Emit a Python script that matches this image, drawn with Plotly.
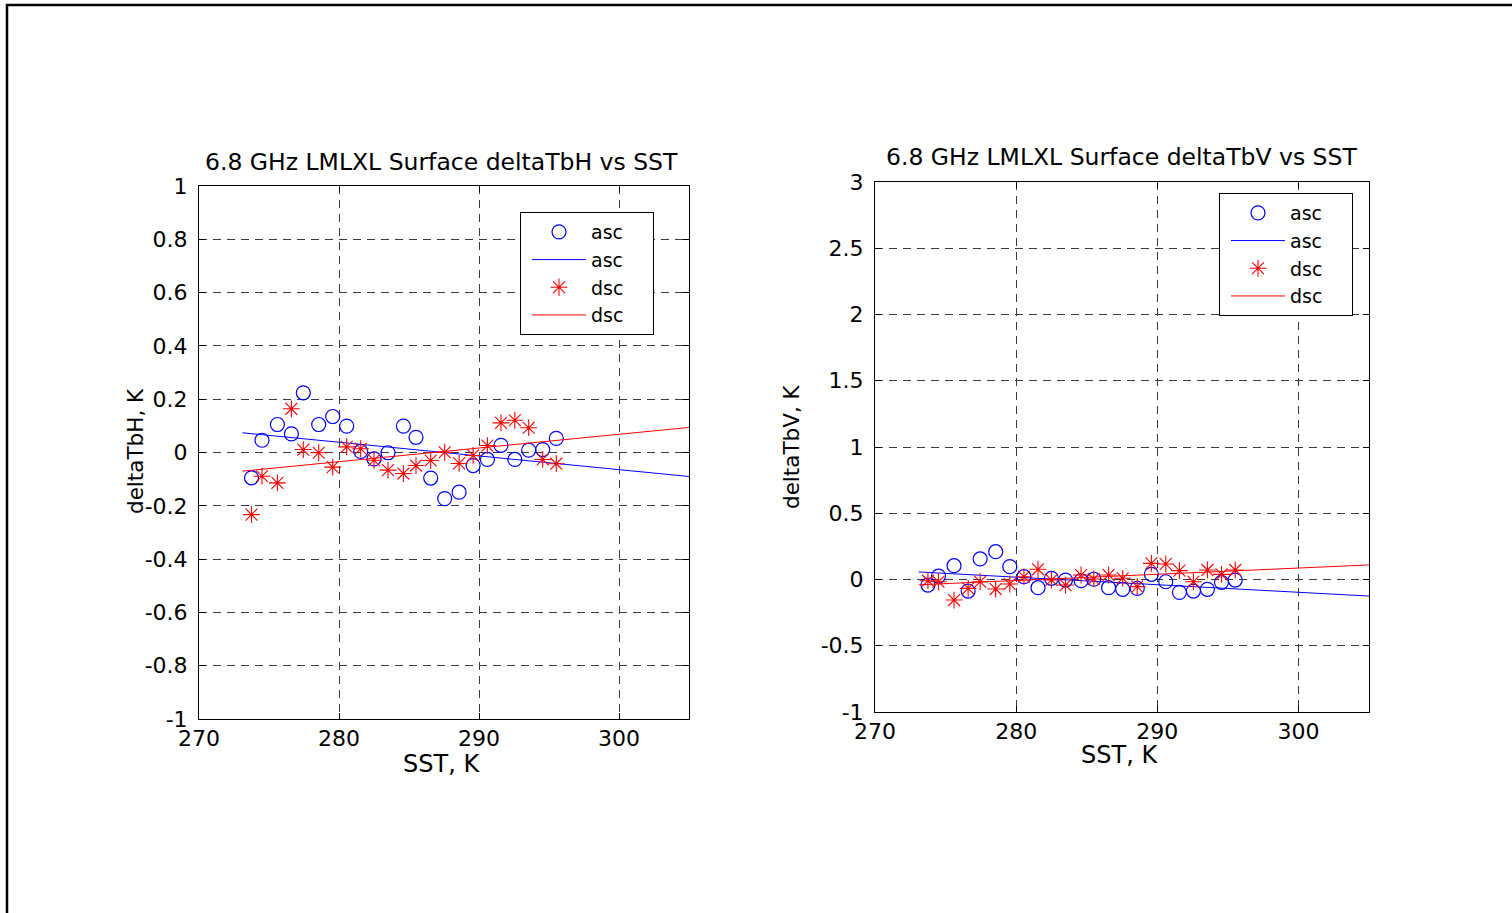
import plotly.graph_objects as go

# Sea surface temperature bins (K), shared by both channels
sst = [273.75, 274.5, 275.6, 276.6, 277.45, 278.55, 279.55, 280.55, 281.55, 282.5,
       283.5, 284.6, 285.5, 286.55, 287.55, 288.58, 289.58, 290.6, 291.57, 292.56,
       293.55, 294.55, 295.52]

# H-pol surface deltaTb (K)
dtbh_asc = [-0.095, 0.046, 0.105, 0.070, 0.224, 0.105, 0.135, 0.099, 0.004, -0.024,
            -0.001, 0.099, 0.057, -0.096, -0.173, -0.149, -0.049, -0.026, 0.027, -0.026,
            0.009, 0.011, 0.053]
dtbh_dsc = [-0.233, -0.089, -0.114, 0.164, 0.011, -0.001, -0.055, 0.021, 0.014, -0.029,
            -0.066, -0.079, -0.049, -0.030, 0.001, -0.041, -0.011, 0.026, 0.111, 0.121,
            0.093, -0.026, -0.042]

# V-pol surface deltaTb (K)
dtbv_asc = [-0.042, 0.026, 0.104, -0.087, 0.155, 0.210, 0.097, 0.021, -0.062, 0.009,
            -0.004, -0.009, 0.002, -0.062, -0.074, -0.067, 0.039, -0.017, -0.097, -0.087,
            -0.074, -0.021, -0.004]
dtbv_dsc = [-0.009, -0.017, -0.155, -0.067, -0.017, -0.072, -0.034, 0.021, 0.077, -0.004,
            -0.042, 0.034, 0.004, 0.034, 0.009, -0.054, 0.122, 0.117, 0.067, -0.017,
            0.072, 0.039, 0.072]

# Linear fits, evaluated at the ends of the SST range
fit_sst = [273.1, 305.0]
fit_h_asc = [0.074, -0.090]
fit_h_dsc = [-0.070, 0.094]
fit_v_asc = [0.057, -0.125]
fit_v_dsc = [-0.040, 0.110]

# Axis ticks
x_ticks = [270, 280, 290, 300]
x_tick_text = ["270", "280", "290", "300"]
h_ticks = [-1, -0.8, -0.6, -0.4, -0.2, 0, 0.2, 0.4, 0.6, 0.8, 1]
h_tick_text = ["-1", "-0.8", "-0.6", "-0.4", "-0.2", "0", "0.2", "0.4", "0.6", "0.8", "1"]
v_ticks = [-1, -0.5, 0, 0.5, 1, 1.5, 2, 2.5, 3]
v_tick_text = ["-1", "-0.5", "0", "0.5", "1", "1.5", "2", "2.5", "3"]

W, H = 1512, 913
FONT = "DejaVu Sans, Arial, Helvetica, sans-serif"
TICK_FS = 22
TITLE_FS = 23.5
XLAB_FS = 24
YLAB_FS = 21.5
LEG_FS = 19
BLUE = "#0000ff"
RED = "#ff0000"
PAD = "\u00a0\u00a0\u00a0\u00a0"


def px_x(p):
    return p / W


def px_y(p):
    return 1 - p / H


fig = go.Figure()


def add_panel(xa, ya, leg, asc, dsc, fit_asc, fit_dsc):
    fig.add_trace(go.Scatter(
        x=sst, y=asc, mode="markers", name="asc" + PAD, xaxis=xa, yaxis=ya, legend=leg,
        marker=dict(symbol="circle-open", size=14, color=BLUE, line=dict(width=1.2, color=BLUE))))
    fig.add_trace(go.Scatter(
        x=fit_sst, y=fit_asc, mode="lines", name="asc" + PAD, xaxis=xa, yaxis=ya, legend=leg,
        line=dict(color=BLUE, width=1)))
    fig.add_trace(go.Scatter(
        x=sst, y=dsc, mode="markers", name="dsc" + PAD, xaxis=xa, yaxis=ya, legend=leg,
        marker=dict(symbol="asterisk-open", size=14, color=RED, line=dict(width=1.1, color=RED))))
    fig.add_trace(go.Scatter(
        x=fit_sst, y=fit_dsc, mode="lines", name="dsc" + PAD, xaxis=xa, yaxis=ya, legend=leg,
        line=dict(color=RED, width=1)))


add_panel("x", "y", "legend", dtbh_asc, dtbh_dsc, fit_h_asc, fit_h_dsc)
add_panel("x2", "y2", "legend2", dtbv_asc, dtbv_dsc, fit_v_asc, fit_v_dsc)

axis_common = dict(
    showline=True, linecolor="black", linewidth=1, mirror="ticks",
    ticks="inside", ticklen=6, tickcolor="black", tickwidth=1,
    showgrid=True, gridcolor="#3a3a3a", gridwidth=1, griddash="8px,6px",
    zeroline=False, tickfont=dict(family=FONT, size=TICK_FS, color="black"),
    fixedrange=True, automargin=False,
)

legend_common = dict(
    bgcolor="white", bordercolor="black", borderwidth=1,
    font=dict(family=FONT, size=LEG_FS, color="black"),
    xanchor="left", yanchor="top", tracegroupgap=0, itemwidth=54, indentation=6,
    traceorder="normal",
)

fig.update_layout(
    width=W, height=H,
    margin=dict(l=0, r=0, t=0, b=0, pad=0, autoexpand=False),
    paper_bgcolor="white", plot_bgcolor="white",
    font=dict(family=FONT, size=TICK_FS, color="black"),
    xaxis=dict(domain=[px_x(199), px_x(689)], range=[270, 305], anchor="y",
               tickvals=x_ticks, ticktext=x_tick_text, ticklabelstandoff=0, **axis_common),
    yaxis=dict(domain=[px_y(719), px_y(186)], range=[-1, 1], anchor="x",
               tickvals=h_ticks, ticktext=h_tick_text, ticklabelstandoff=6, **axis_common),
    xaxis2=dict(domain=[px_x(875), px_x(1369)], range=[270, 305], anchor="y2",
                tickvals=x_ticks, ticktext=x_tick_text, ticklabelstandoff=0, **axis_common),
    yaxis2=dict(domain=[px_y(712), px_y(182)], range=[-1, 3], anchor="x2",
                tickvals=v_ticks, ticktext=v_tick_text, ticklabelstandoff=6, **axis_common),
    legend=dict(x=px_x(520), y=px_y(212), **legend_common),
    legend2=dict(x=px_x(1219), y=px_y(193), **legend_common),
    showlegend=True,
)

# Panel titles and axis labels
texts = [
    ("6.8 GHz LMLXL Surface deltaTbH vs SST", 441, 162, 0, TITLE_FS),
    ("6.8 GHz LMLXL Surface deltaTbV vs SST", 1121, 157, 0, TITLE_FS),
    ("SST, K", 441, 764, 0, XLAB_FS),
    ("SST, K", 1119, 755, 0, XLAB_FS),
    ("deltaTbH, K", 136, 451, -90, YLAB_FS),
    ("deltaTbV, K", 791, 447, -90, YLAB_FS),
]
for txt, cx, cy, ang, fs in texts:
    fig.add_annotation(text=txt, x=px_x(cx), y=px_y(cy), xref="paper", yref="paper",
                       showarrow=False, textangle=ang, xanchor="center", yanchor="middle",
                       font=dict(family=FONT, size=fs, color="black"))

# Figure window frame (right and bottom edges fall outside the page)
fig.add_shape(type="rect", xref="paper", yref="paper",
              x0=px_x(7), x1=1.02, y0=-0.02, y1=px_y(5),
              line=dict(color="black", width=2.5), fillcolor="rgba(0,0,0,0)", layer="above")

# Page without body margin so the 1512x913 figure fills the window exactly
fig.write_html("out.html",
               post_script="document.body.style.margin='0px';"
                           "document.body.style.overflow='hidden';")
